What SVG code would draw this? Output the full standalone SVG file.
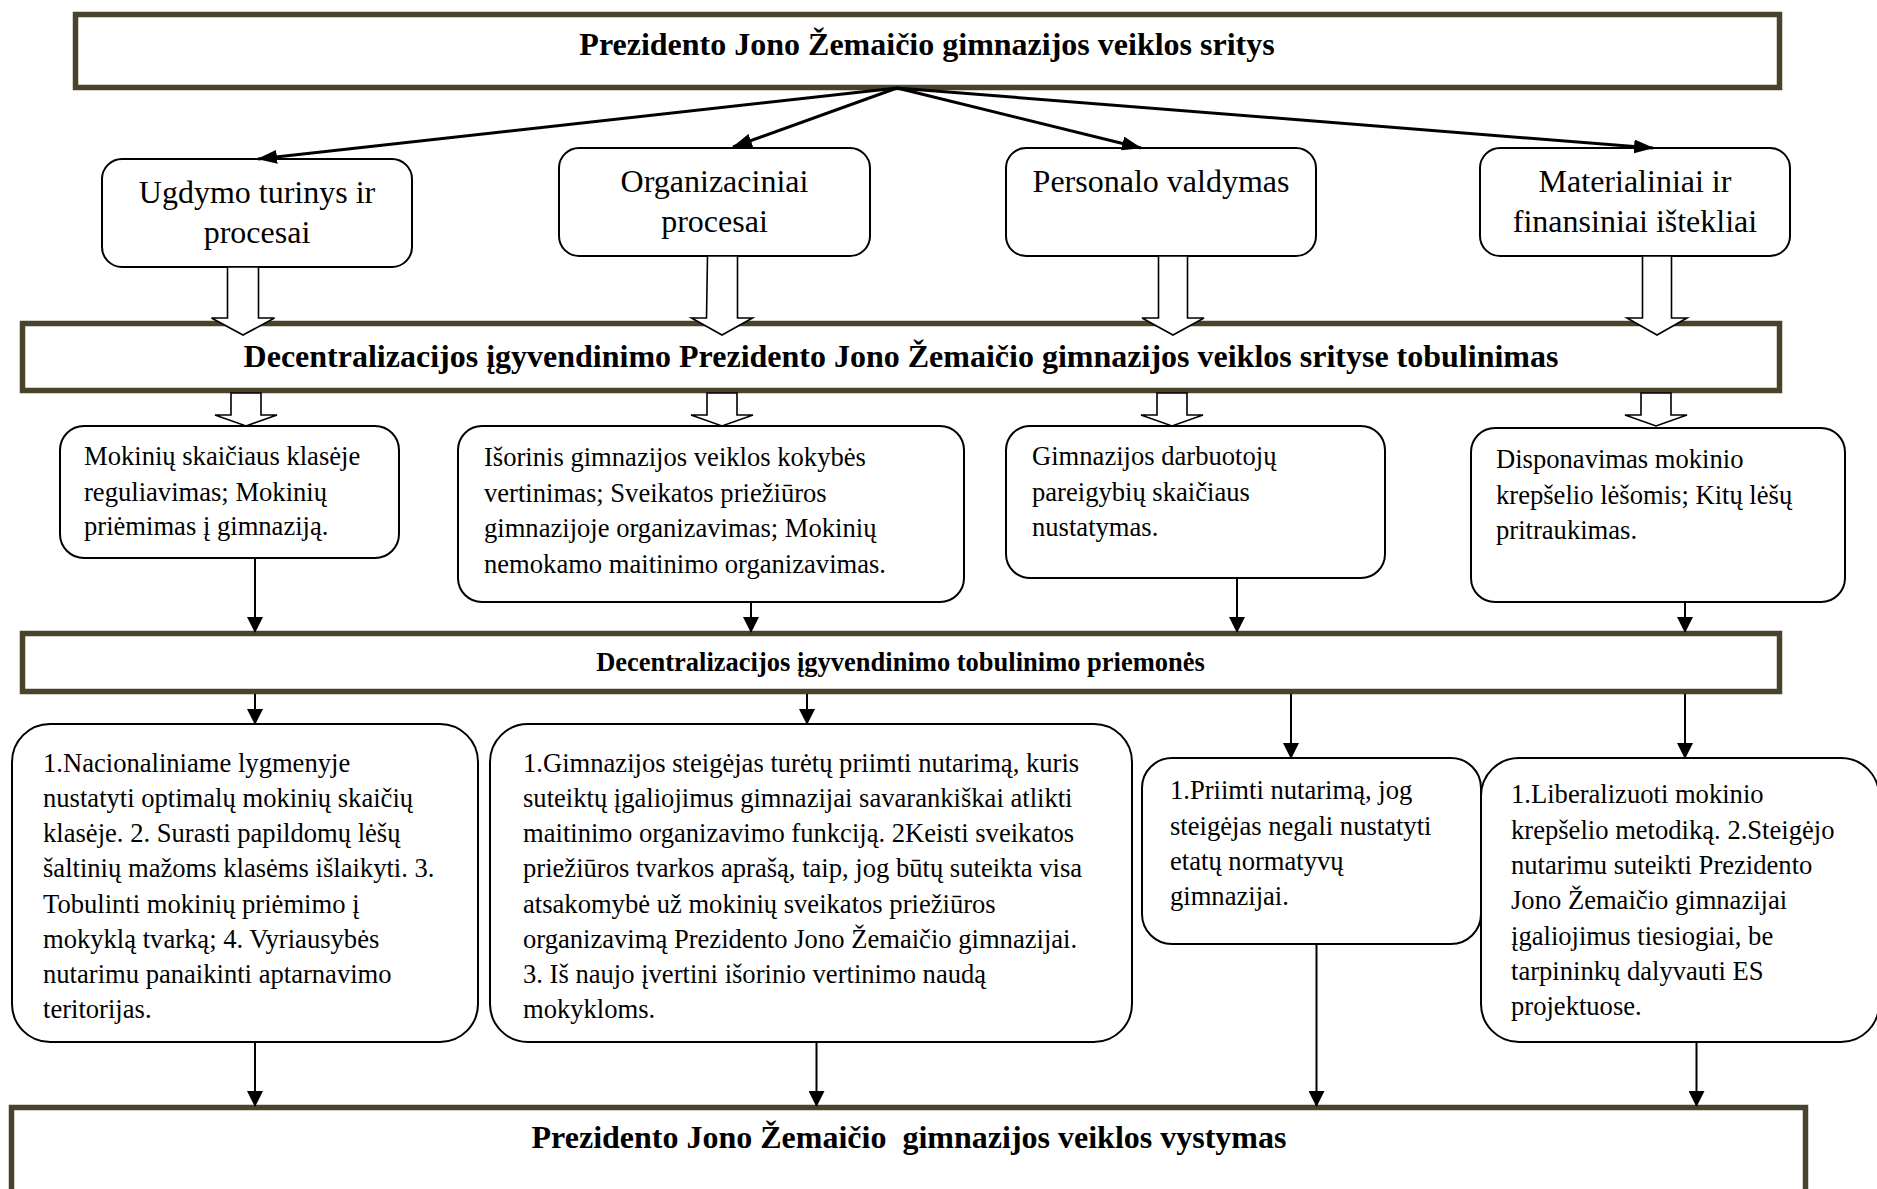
<svg xmlns="http://www.w3.org/2000/svg" width="1877" height="1189" viewBox="0 0 1877 1189">
<style>
text{font-family:"Liberation Serif","Times New Roman",serif;fill:#000}
.h{font-weight:bold;font-size:32px;text-anchor:middle}
.h3{font-weight:bold;font-size:26.5px;text-anchor:middle}
.c{font-size:32px;text-anchor:middle}
.b{font-size:26.6px}
.hb{fill:#fff;stroke:#4a432b;stroke-width:5.5}
.nb{fill:#fff;stroke:#000;stroke-width:2}
.big{fill:none;stroke:#000;stroke-width:3;marker-end:url(#ah1)}
.thin{fill:none;stroke:#000;stroke-width:2;marker-end:url(#ah2)}
.blk{fill:#fff;stroke:#000;stroke-width:1.6;stroke-linejoin:miter}
</style>
<defs>
<marker id="ah1" markerUnits="userSpaceOnUse" markerWidth="20" markerHeight="14" refX="19" refY="7" orient="auto"><path d="M0,0 L20,7 L0,14 Z" fill="#000"/></marker>
<marker id="ah2" markerUnits="userSpaceOnUse" markerWidth="16" markerHeight="16" refX="15" refY="8" orient="auto"><path d="M0,0 L16,8 L0,16 Z" fill="#000"/></marker>
</defs>
<rect width="1877" height="1189" fill="#fff"/>

<g id="title">
<rect class="hb" x="75.5" y="14.5" width="1704" height="73"/>
<text class="h" x="927" y="55">Prezidento Jono Žemaičio gimnazijos veiklos sritys</text>
</g>

<g id="ugdymas">
<rect class="nb" x="102" y="159" width="310" height="108" rx="20"/>
<text class="c" x="257" y="203">Ugdymo turinys ir</text>
<text class="c" x="257" y="243">procesai</text>
</g>
<g id="organizaciniai">
<rect class="nb" x="559" y="148" width="311" height="108" rx="20"/>
<text class="c" x="714.5" y="191.5">Organizaciniai</text>
<text class="c" x="714.5" y="232">procesai</text>
</g>
<g id="personalas">
<rect class="nb" x="1006" y="148" width="310" height="108" rx="20"/>
<text class="c" x="1161" y="191.5">Personalo valdymas</text>
</g>
<g id="materialiniai">
<rect class="nb" x="1480" y="148" width="310" height="108" rx="20"/>
<text class="c" x="1635" y="191.5">Materialiniai ir</text>
<text class="c" x="1635" y="232">finansiniai ištekliai</text>
</g>

<g id="tobulinimas">
<rect class="hb" x="22.5" y="323.5" width="1757" height="67"/>
<text class="h" x="901" y="367">Decentralizacijos įgyvendinimo Prezidento Jono Žemaičio gimnazijos veiklos srityse tobulinimas</text>
</g>

<g id="sritis1">
<rect class="nb" x="60" y="426" width="339" height="132" rx="24"/>
<text class="b" x="84" y="465">Mokinių skaičiaus klasėje</text>
<text class="b" x="84" y="500.5">reguliavimas; Mokinių</text>
<text class="b" x="84" y="535">priėmimas į gimnaziją.</text>
</g>
<g id="sritis2">
<rect class="nb" x="458" y="426" width="506" height="176" rx="24"/>
<text class="b" x="484" y="466">Išorinis gimnazijos veiklos kokybės</text>
<text class="b" x="484" y="501.5">vertinimas; Sveikatos priežiūros</text>
<text class="b" x="484" y="537">gimnazijoje organizavimas; Mokinių</text>
<text class="b" x="484" y="572.5">nemokamo maitinimo organizavimas.</text>
</g>
<g id="sritis3">
<rect class="nb" x="1006" y="426" width="379" height="152" rx="24"/>
<text class="b" x="1032" y="465">Gimnazijos darbuotojų</text>
<text class="b" x="1032" y="500.5">pareigybių skaičiaus</text>
<text class="b" x="1032" y="536">nustatymas.</text>
</g>
<g id="sritis4">
<rect class="nb" x="1471" y="428" width="374" height="174" rx="24"/>
<text class="b" x="1496" y="468">Disponavimas mokinio</text>
<text class="b" x="1496" y="503.5">krepšelio lėšomis; Kitų lėšų</text>
<text class="b" x="1496" y="539">pritraukimas.</text>
</g>

<g id="priemones">
<rect class="hb" x="22.5" y="633.5" width="1757" height="58"/>
<text class="h3" x="900.5" y="671">Decentralizacijos įgyvendinimo tobulinimo priemonės</text>
</g>

<g id="priemone1">
<rect class="nb" x="12" y="724" width="466" height="318" rx="38"/>
<text class="b" x="43" y="771.7">1.Nacionaliniame lygmenyje</text>
<text class="b" x="43" y="806.9">nustatyti optimalų mokinių skaičių</text>
<text class="b" x="43" y="842.1">klasėje. 2. Surasti papildomų lėšų</text>
<text class="b" x="43" y="877.3">šaltinių mažoms klasėms išlaikyti. 3.</text>
<text class="b" x="43" y="912.5">Tobulinti mokinių priėmimo į</text>
<text class="b" x="43" y="947.7">mokyklą tvarką; 4. Vyriausybės</text>
<text class="b" x="43" y="982.9">nutarimu panaikinti aptarnavimo</text>
<text class="b" x="43" y="1018.1">teritorijas.</text>
</g>
<g id="priemone2">
<rect class="nb" x="490" y="724" width="642" height="318" rx="38"/>
<text class="b" x="523" y="771.7">1.Gimnazijos steigėjas turėtų priimti nutarimą, kuris</text>
<text class="b" x="523" y="806.9">suteiktų įgaliojimus gimnazijai savarankiškai atlikti</text>
<text class="b" x="523" y="842.1">maitinimo organizavimo funkciją. 2Keisti sveikatos</text>
<text class="b" x="523" y="877.3">priežiūros tvarkos aprašą, taip, jog būtų suteikta visa</text>
<text class="b" x="523" y="912.5">atsakomybė už mokinių sveikatos priežiūros</text>
<text class="b" x="523" y="947.7">organizavimą Prezidento Jono Žemaičio gimnazijai.</text>
<text class="b" x="523" y="982.9">3. Iš naujo įvertini išorinio vertinimo naudą</text>
<text class="b" x="523" y="1018.1">mokykloms.</text>
</g>
<g id="priemone3">
<rect class="nb" x="1142" y="758" width="339" height="186" rx="30"/>
<text class="b" x="1170" y="799.3">1.Priimti nutarimą, jog</text>
<text class="b" x="1170" y="834.6">steigėjas negali nustatyti</text>
<text class="b" x="1170" y="869.9">etatų normatyvų</text>
<text class="b" x="1170" y="905.2">gimnazijai.</text>
</g>
<g id="priemone4">
<rect class="nb" x="1481" y="758" width="398" height="284" rx="38"/>
<text class="b" x="1511" y="803.3">1.Liberalizuoti mokinio</text>
<text class="b" x="1511" y="838.6">krepšelio metodiką. 2.Steigėjo</text>
<text class="b" x="1511" y="873.9">nutarimu suteikti Prezidento</text>
<text class="b" x="1511" y="909.2">Jono Žemaičio gimnazijai</text>
<text class="b" x="1511" y="944.5">įgaliojimus tiesiogiai, be</text>
<text class="b" x="1511" y="979.8">tarpininkų dalyvauti ES</text>
<text class="b" x="1511" y="1015.1">projektuose.</text>
</g>

<g id="vystymas">
<rect class="hb" x="11.5" y="1107.5" width="1794" height="200"/>
<text class="h" x="909" y="1148" style="white-space:pre">Prezidento Jono Žemaičio  gimnazijos veiklos vystymas</text>
</g>

<g id="connectors">
<line class="big" x1="897" y1="88" x2="258" y2="159"/>
<line class="big" x1="897" y1="88" x2="733" y2="147"/>
<line class="big" x1="897" y1="88" x2="1141" y2="148"/>
<line class="big" x1="897" y1="88" x2="1653" y2="148"/>

<polygon class="blk" points="227.5,267 258.5,267 258.5,318 274.5,318 243,335 211.5,318 227.5,318"/>
<polygon class="blk" points="707.5,256 737.5,256 737.5,318 752.5,318 722,335 691.5,318 706.5,318"/>
<polygon class="blk" points="1158.5,256 1187.5,256 1187.5,318 1204,318 1173,335 1142,318 1158.5,318"/>
<polygon class="blk" points="1642.5,256 1671.5,256 1671.5,318 1687,318 1657,335 1627,318 1642.5,318"/>

<polygon class="blk" points="231,393 261,393 261,415 277,415 246,426 215,415 231,415"/>
<polygon class="blk" points="707,393 737,393 737,415 753,415 722,426 691,415 707,415"/>
<polygon class="blk" points="1157,393 1187,393 1187,415 1203,415 1172,426 1141,415 1157,415"/>
<polygon class="blk" points="1641,393 1671,393 1671,415 1687,415 1656,426 1625,415 1641,415"/>

<line class="thin" x1="255" y1="558" x2="255" y2="632"/>
<line class="thin" x1="751" y1="602" x2="751" y2="632"/>
<line class="thin" x1="1237" y1="578" x2="1237" y2="632"/>
<line class="thin" x1="1685" y1="602" x2="1685" y2="632"/>

<line class="thin" x1="255" y1="694" x2="255" y2="724"/>
<line class="thin" x1="807" y1="694" x2="807" y2="724"/>
<line class="thin" x1="1291" y1="694" x2="1291" y2="758"/>
<line class="thin" x1="1685" y1="694" x2="1685" y2="758"/>

<line class="thin" x1="255" y1="1042" x2="255" y2="1106"/>
<line class="thin" x1="816.5" y1="1042" x2="816.5" y2="1106"/>
<line class="thin" x1="1316.5" y1="944" x2="1316.5" y2="1106"/>
<line class="thin" x1="1696.5" y1="1042" x2="1696.5" y2="1106"/>
</g>
</svg>
